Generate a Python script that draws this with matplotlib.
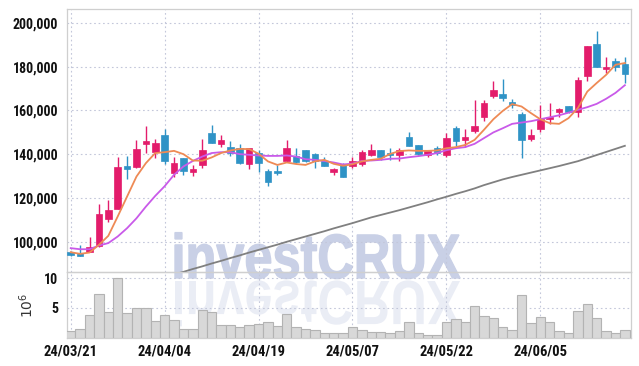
import matplotlib
matplotlib.use("Agg")
import matplotlib.pyplot as plt
import matplotlib.transforms as mtransforms
from matplotlib.textpath import TextPath
from matplotlib.patches import PathPatch
from matplotlib.font_manager import FontProperties
import numpy as np

dates = ["24/03/21", "24/03/22", "24/03/25", "24/03/26", "24/03/27", "24/03/28", "24/03/29",
         "24/04/01", "24/04/02", "24/04/03", "24/04/04", "24/04/05", "24/04/08", "24/04/09",
         "24/04/11", "24/04/12", "24/04/15", "24/04/16", "24/04/17", "24/04/18", "24/04/19",
         "24/04/22", "24/04/23", "24/04/24", "24/04/25", "24/04/26", "24/04/29", "24/04/30",
         "24/05/02", "24/05/03", "24/05/07", "24/05/08", "24/05/09", "24/05/10", "24/05/13",
         "24/05/14", "24/05/16", "24/05/17", "24/05/20", "24/05/21", "24/05/22", "24/05/23",
         "24/05/24", "24/05/27", "24/05/28", "24/05/29", "24/05/30", "24/05/31", "24/06/03",
         "24/06/04", "24/06/05", "24/06/07", "24/06/10", "24/06/11", "24/06/12", "24/06/13",
         "24/06/14", "24/06/17", "24/06/18", "24/06/19"]

opens = [95500, 95100, 95700, 98500, 110500, 115300, 134900, 134200, 144900, 141300,
         149000, 131300, 138400, 132200, 135100, 149800, 144800, 143300, 142700, 135500,
         140600, 132500, 132600, 137000, 139300, 142100, 140200, 137000, 132200, 135500,
         134500, 135700, 139800, 142100, 140700, 139900, 147900, 144200, 139800, 142800,
         139500, 152100, 146600, 150700, 157200, 166400, 167300, 163900, 158500, 147100,
         151600, 155900, 159500, 162100, 159200, 175900, 190400, 179000, 182500, 181300]
closes = [94100, 93900, 97900, 112900, 114700, 134300, 133400, 142500, 145900, 145300,
          137100, 136000, 132600, 133400, 142100, 145400, 146600, 140600, 136200, 143000,
          136200, 127200, 131300, 143000, 136600, 136900, 137200, 134900, 133400, 129900,
          137100, 141300, 142100, 139000, 139500, 142100, 144000, 140200, 141600, 140600,
          147400, 146300, 148000, 152700, 163600, 169400, 165600, 162400, 146600, 148900,
          156200, 157200, 160600, 159100, 174000, 189500, 180000, 180000, 180000, 176700]
highs = [96200, 98700, 102600, 117300, 119300, 139000, 139300, 146600, 153000, 147100,
         151500, 138700, 138500, 135200, 147200, 153500, 148800, 146000, 144700, 143100,
         141800, 133400, 135100, 146600, 143000, 142100, 140800, 139000, 134000, 136000,
         139000, 142100, 144700, 142100, 142800, 142800, 150100, 144300, 141700, 143600,
         149700, 153000, 151500, 164800, 164800, 173600, 174400, 165200, 159100, 151500,
         162300, 163300, 161200, 162200, 175200, 189500, 196200, 184300, 184100, 184300]
lows = [93500, 93500, 95500, 98000, 109100, 115100, 128700, 133700, 140600, 138300,
        135600, 129900, 130700, 130200, 133700, 145100, 143400, 139300, 135400, 133300,
        132000, 125400, 130500, 136600, 136000, 136500, 134000, 134800, 130500, 129900,
        133700, 134800, 139300, 137500, 137500, 137100, 143600, 139800, 138900, 139800,
        139000, 143900, 143300, 149700, 155000, 165600, 164500, 161100, 138300, 145900,
        150400, 153900, 157000, 158900, 157200, 173500, 180000, 177000, 178100, 172700]

ma5 = [95450, 94700, 95300, 98800, 102900, 111700, 120800, 129900, 136000, 140600,
       141000, 141600, 140100, 137200, 137100, 138600, 140600, 141800, 142500, 142400,
       140300, 136800, 135200, 136300, 135600, 135200, 136800, 137500, 135700, 134800,
       135500, 136800, 137500, 138000, 140200, 141500, 141800, 141600, 141600, 141800,
       142800, 143300, 144300, 146600, 151200, 156000, 159800, 162900, 161800, 158800,
       156000, 154200, 153900, 156500, 161100, 168600, 172500, 176200, 180800, 181600]
ma10 = [97300, 96800, 96800, 98500, 99600, 102600, 106400, 110900, 116200, 121100,
        125500, 130700, 134500, 137000, 139000, 140600, 141000, 141000, 140100, 139800,
        139500, 139300, 139300, 139500, 139000, 137800, 137500, 137000, 136300, 135400,
        135800, 137000, 137200, 137500, 138000, 138100, 138700, 139200, 139800, 140600,
        141900, 142800, 143300, 144800, 147400, 150000, 151900, 153900, 154500, 155100,
        156000, 156900, 157800, 159000, 160300, 161500, 163000, 165300, 168000, 171500]
# long MA only enters the visible range around 04/05
ma_long = [np.nan] * 11 + [
    85300, 86500, 87800, 89000, 90300, 91500, 92800, 94000, 95300,
    96500, 97700, 98900, 100200, 101400, 102600, 103800, 105000, 106300, 107500,
    108700, 110000, 111300, 112400, 113500, 114600, 115800, 117000, 118200, 119500,
    120700, 122000, 123200, 124500, 126000, 127300, 128600, 129700, 130700, 131700,
    132700, 133700, 134700, 135800, 136900, 138300, 139700, 141100, 142500, 143900]

volume = [1.1, 1.5, 3.8, 7.4, 4.3, 10.1, 4.1, 4.9, 4.9, 2.8,
          3.8, 3.0, 1.5, 1.4, 4.7, 4.3, 2.1, 2.1, 1.7, 2.1,
          2.2, 2.6, 1.9, 3.9, 1.8, 1.4, 1.3, 0.8, 0.7, 0.7,
          1.7, 1.2, 1.0, 0.9, 0.7, 1.1, 2.6, 0.7, 0.5, 0.5,
          2.6, 3.1, 2.6, 5.3, 3.6, 3.3, 1.7, 1.2, 7.2, 2.4,
          3.4, 2.6, 1.1, 0.7, 4.5, 5.7, 3.3, 1.1, 0.7, 1.2]  # millions

UP = "#e31c6b"
DOWN = "#2f93c6"
GRID = "#c3c7da"
SPINE = "#cfcfcf"
WM = "#c9d0e6"
tick_font = ["Roboto Condensed", "Roboto", "DejaVu Sans"]

W, H = 639, 366
fig = plt.figure(figsize=(W / 100, H / 100), dpi=100)
fig.patch.set_facecolor("white")

# watermark layer (pixel coords, y down)
ax_wm = fig.add_axes([0, 0, 1, 1], zorder=0)
ax_wm.set_xlim(0, W)
ax_wm.set_ylim(H, 0)
ax_wm.axis("off")
tp = TextPath((0, 0), "investCRUX", size=100,
              prop=FontProperties(family=["Liberation Sans", "DejaVu Sans"], weight="bold"))
bb = tp.get_extents()
sx = (460 - 175) / bb.width
sy = (278 - 232) / bb.height
tr_main = mtransforms.Affine2D().translate(-bb.x0, 0).scale(sx, -sy).translate(175, 278)
tr_refl = mtransforms.Affine2D().translate(-bb.x0, 0).scale(sx, sy).translate(175, 281)
ax_wm.add_patch(PathPatch(tp, transform=tr_main + ax_wm.transData,
                          facecolor=WM, edgecolor=WM, linewidth=1.0))
ax_wm.add_patch(PathPatch(tp, transform=tr_refl + ax_wm.transData,
                          facecolor=WM, edgecolor="none", alpha=0.38))

left, right = 66.5 / W, 630.5 / W
ax = fig.add_axes([left, 1 - 272.3 / H, right - left, (272.3 - 9) / H], zorder=1)
axv = fig.add_axes([left, 1 - 337.5 / H, right - left, (337.5 - 272.3) / H],
                   sharex=ax, zorder=1)

x = np.arange(len(dates))
o = np.array(opens); c = np.array(closes)
colors = [UP if cc >= oo else DOWN for oo, cc in zip(o, c)]

ax.vlines(x, lows, highs, colors=colors, linewidth=1.0, zorder=3)
body_h = np.maximum(np.abs(c - o), 500)
ax.bar(x, body_h, bottom=np.minimum(o, c), width=0.7, color=colors,
       edgecolor=colors, linewidth=0.5, zorder=4)

ax.plot(x, ma_long, color="#808080", linewidth=1.3, zorder=5)
ax.plot(x, ma10, color="#c95ae9", linewidth=1.3, zorder=5)
ax.plot(x, ma5, color="#ee8a55", linewidth=1.3, zorder=5)

ax.set_ylim(86300, 206200)
ax.set_xlim(-0.45, 59.6)
yt = np.arange(100000, 200001, 20000)
ax.set_yticks(yt)
ax.set_yticklabels([f"{v:,}" for v in yt])
tick_idx = list(range(0, 60, 10))
ax.set_xticks(tick_idx)
ax.tick_params(axis="x", labelbottom=False, length=0)
ax.tick_params(axis="y", length=0, pad=6)

axv.bar(x, volume, width=1.0, color="#d8d8d8", edgecolor="#b3b3b3",
        linewidth=0.8, zorder=3)
axv.set_ylim(0, 11.0)
axv.set_yticks([5, 10])
axv.set_yticklabels(["5", "10"])
axv.set_xticks(tick_idx)
axv.set_xticklabels([dates[i] for i in tick_idx])
axv.tick_params(axis="both", length=0)
axv.tick_params(axis="x", pad=5)
axv.tick_params(axis="y", pad=6)
axv.set_ylabel("$10^6$", fontsize=10, color="#333333", labelpad=6)

for a in (ax, axv):
    a.set_facecolor("none")
    a.grid(True, linestyle=(0, (1.5, 2.5)), color=GRID, linewidth=0.8, zorder=0)
    a.set_axisbelow(True)
    for s in a.spines.values():
        s.set_color(SPINE)
        s.set_linewidth(0.9)
    for lbl in a.get_xticklabels() + a.get_yticklabels():
        lbl.set_fontfamily(tick_font)
        lbl.set_fontweight("bold")
        lbl.set_fontsize(10)
        lbl.set_color("#111111")
for lbl in axv.get_xticklabels():
    lbl.set_fontsize(10.5)

fig.savefig("out.png", dpi=100)
